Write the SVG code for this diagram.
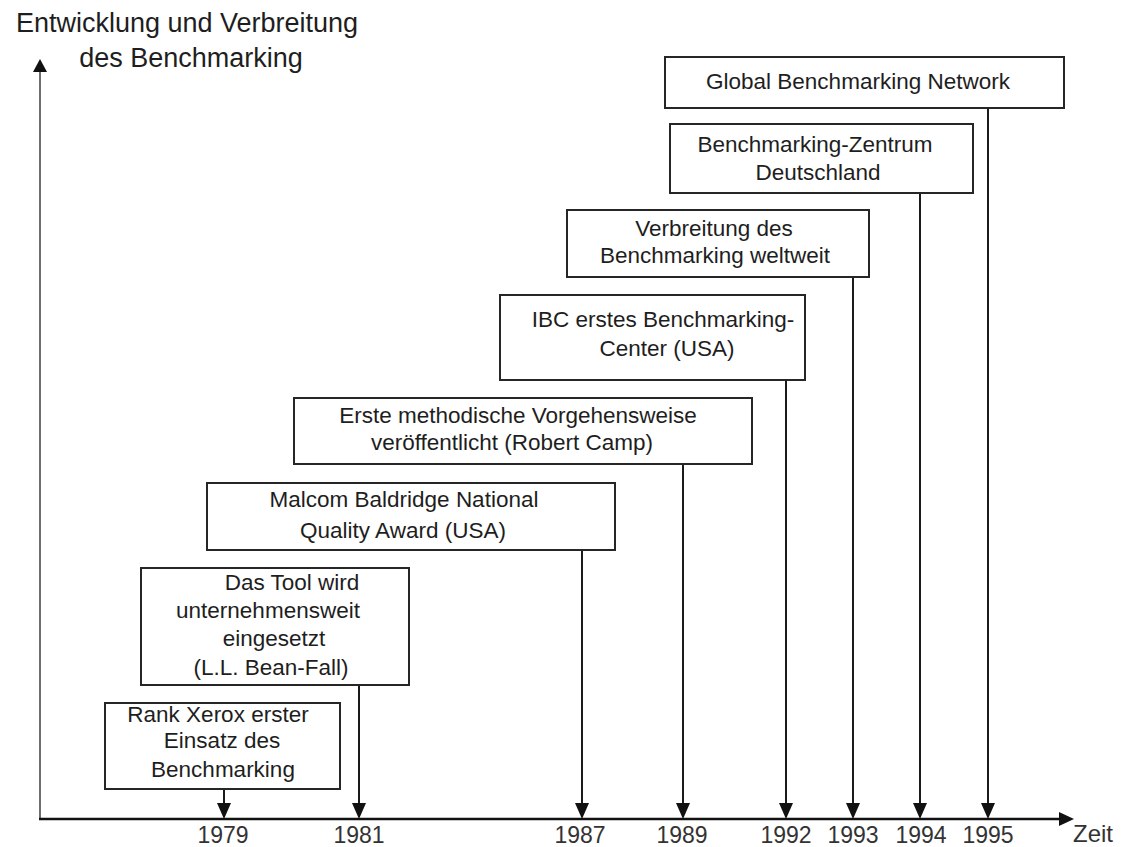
<svg xmlns="http://www.w3.org/2000/svg" width="1122" height="847" viewBox="0 0 1122 847">
<style>
  .box { fill: #ffffff; stroke: #262626; stroke-width: 2; }
  .t { font-family: "Liberation Sans", Arial, sans-serif; font-size: 22.5px; fill: #1e1e1e; text-anchor: middle; }
  .title { font-family: "Liberation Sans", Arial, sans-serif; font-size: 27px; fill: #1e1e1e; text-anchor: middle; }
  .yr { font-family: "Liberation Sans", Arial, sans-serif; font-size: 23px; fill: #333333; text-anchor: middle; }
  .conn { stroke: #1a1a1a; stroke-width: 2; fill: none; }
  .head { fill: #111111; }
</style>
<rect width="1122" height="847" fill="#ffffff"/>

<g id="axes">
  <line x1="40" y1="70" x2="40" y2="819" stroke="#4a4a4a" stroke-width="1.6"/>
  <polygon class="head" points="33,72 47,72 40,59"/>
  <line x1="39" y1="819" x2="1062" y2="819" stroke="#111111" stroke-width="2.5"/>
  <polygon class="head" points="1059,812 1059,826 1074,819"/>
  <text class="title" x="187" y="32">Entwicklung und Verbreitung</text>
  <text class="title" x="191" y="67">des Benchmarking</text>
  <text class="yr" x="1093" y="842" style="font-size:24px">Zeit</text>
</g>

<g id="years">
  <text class="yr" x="223" y="843">1979</text>
  <text class="yr" x="359" y="843">1981</text>
  <text class="yr" x="580" y="843">1987</text>
  <text class="yr" x="682" y="843">1989</text>
  <text class="yr" x="786" y="843">1992</text>
  <text class="yr" x="853" y="843">1993</text>
  <text class="yr" x="921" y="843">1994</text>
  <text class="yr" x="988" y="843">1995</text>
</g>

<g id="connectors">
  <line class="conn" x1="224" y1="789" x2="224" y2="806"/>
  <polygon class="head" points="217,803 231,803 224,819"/>
  <line class="conn" x1="359" y1="685" x2="359" y2="806"/>
  <polygon class="head" points="352,803 366,803 359,819"/>
  <line class="conn" x1="582" y1="550" x2="582" y2="806" stroke="#3a3a3a"/>
  <polygon class="head" points="575,803 589,803 582,819"/>
  <line class="conn" x1="683" y1="464" x2="683" y2="806"/>
  <polygon class="head" points="676,803 690,803 683,819"/>
  <line class="conn" x1="786" y1="380" x2="786" y2="806"/>
  <polygon class="head" points="779,803 793,803 786,819"/>
  <line class="conn" x1="853" y1="277" x2="853" y2="806"/>
  <polygon class="head" points="846,803 860,803 853,819"/>
  <line class="conn" x1="920" y1="193" x2="920" y2="806"/>
  <polygon class="head" points="913,803 927,803 920,819"/>
  <line class="conn" x1="988" y1="108" x2="988" y2="806"/>
  <polygon class="head" points="981,803 995,803 988,819"/>
</g>

<g id="node-global">
  <rect class="box" x="665" y="57" width="399" height="51"/>
  <text class="t" x="858" y="89">Global Benchmarking Network</text>
</g>

<g id="node-zentrum">
  <rect class="box" x="670" y="124" width="303" height="69"/>
  <text class="t" x="815" y="152">Benchmarking-Zentrum</text>
  <text class="t" x="818" y="180">Deutschland</text>
</g>

<g id="node-verbreitung">
  <rect class="box" x="567" y="210" width="302" height="67"/>
  <text class="t" x="714" y="236">Verbreitung des</text>
  <text class="t" x="715" y="263">Benchmarking weltweit</text>
</g>

<g id="node-ibc">
  <rect class="box" x="500" y="295" width="305" height="85"/>
  <text class="t" x="663" y="327">IBC erstes Benchmarking-</text>
  <text class="t" x="667" y="356">Center (USA)</text>
</g>

<g id="node-camp">
  <rect class="box" x="294" y="398" width="458" height="66"/>
  <text class="t" x="518" y="423">Erste methodische Vorgehensweise</text>
  <text class="t" x="512" y="450">veröffentlicht (Robert Camp)</text>
</g>

<g id="node-malcom">
  <rect class="box" x="207" y="483" width="408" height="67"/>
  <text class="t" x="404" y="507">Malcom Baldridge National</text>
  <text class="t" x="403" y="538">Quality Award (USA)</text>
</g>

<g id="node-tool">
  <rect class="box" x="141" y="568" width="268" height="117"/>
  <text class="t" x="292" y="590">Das Tool wird</text>
  <text class="t" x="268" y="618">unternehmensweit</text>
  <text class="t" x="274" y="646">eingesetzt</text>
  <text class="t" x="271" y="675">(L.L. Bean-Fall)</text>
</g>

<g id="node-xerox">
  <rect class="box" x="105" y="703" width="235" height="86"/>
  <text class="t" x="218" y="722">Rank Xerox erster</text>
  <text class="t" x="222" y="748">Einsatz des</text>
  <text class="t" x="223" y="777">Benchmarking</text>
</g>
</svg>
